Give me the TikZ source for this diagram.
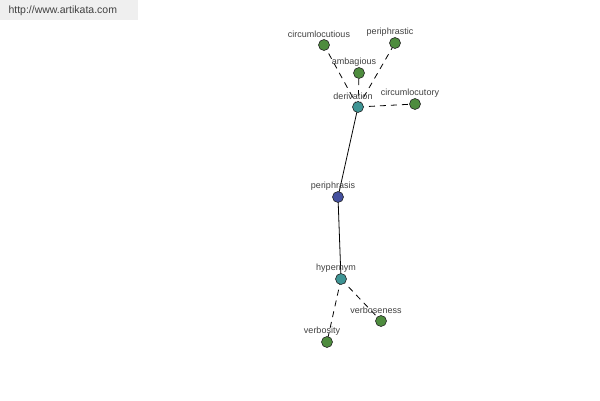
\documentclass[tikz,border=0pt]{standalone}
\usepackage{fontspec}
\setmainfont{Liberation Sans}
\usetikzlibrary{positioning}
\definecolor{leafgreen}{HTML}{4E8C3E}
\definecolor{hubteal}{HTML}{3E9494}
\definecolor{rootblue}{HTML}{44509E}
\definecolor{wordgray}{HTML}{404040}
\definecolor{tagbg}{HTML}{EFEFEF}
\tikzset{
  word/.style={
    circle, draw=black!85, line width=0.6pt, fill=leafgreen,
    minimum size=11pt, inner sep=0pt,
    label={[font=\fontsize{9}{10}\selectfont, text=wordgray, inner sep=1pt, xshift=-5pt]above:#1}
  },
  hub/.style={word=#1, fill=hubteal},
  root/.style={word=#1, fill=rootblue},
  rel/.style={line width=0.8pt, black},
  weak rel/.style={rel, dash pattern=on 6pt off 5pt}
}

\begin{document}
\begin{tikzpicture}[x=1pt, y=-1pt]
  \useasboundingbox (0,0) rectangle (600,400);
  \fill[tagbg] (0,0) rectangle (138,20);
  \node[anchor=west, font=\fontsize{10.5}{12}\selectfont, text=wordgray] (site) at (5,11) {http://www.artikata.com};

  \coordinate (pderiv) at (358,107);
  \coordinate (pperi) at (338,197);
  \coordinate (phyper) at (341,279);

  % lines first, discs on top
  \draw[rel] (pderiv) -- (pperi) -- (phyper);
  \draw[weak rel] (pderiv) -- (324,45);
  \draw[weak rel] (pderiv) -- (395,43);
  \draw[weak rel] (pderiv) -- (359,73);
  \draw[weak rel] (pderiv) -- (415,104);
  \draw[weak rel] (phyper) -- (381,321);
  \draw[weak rel] (phyper) -- (327,342);

  \node[hub=derivation] (derivation) at (pderiv) {};
  \node[root=periphrasis] (periphrasis) at (pperi) {};
  \node[hub=hypernym] (hypernym) at (phyper) {};
  \node[word=circumlocutious] (circumlocutious) at (324,45) {};
  \node[word=periphrastic] (periphrastic) at (395,43) {};
  \node[word=ambagious] (ambagious) at (359,73) {};
  \node[word=circumlocutory] (circumlocutory) at (415,104) {};
  \node[word=verboseness] (verboseness) at (381,321) {};
  \node[word=verbosity] (verbosity) at (327,342) {};
\end{tikzpicture}
\end{document}
